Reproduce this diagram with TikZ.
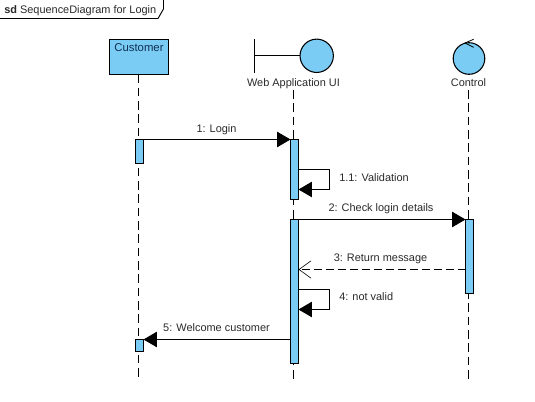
\documentclass[tikz,border=0pt]{standalone}
\usepackage{fontspec}
\setmainfont{Liberation Sans}
\usetikzlibrary{arrows.meta}
\definecolor{umlblue}{HTML}{7ACCF5}
\definecolor{labelgray}{HTML}{2A2A2A}
\definecolor{nameblue}{HTML}{0F2F52}
\tikzset{
  x=0.75pt,y=-0.75pt,
  umlline/.style={draw=black,line width=0.7pt},
  lifeline/.style={umlline,dash pattern=on 6.5pt off 3.5pt},
  activation/.style={draw=black,fill=umlblue,line width=0.7pt,minimum width=6pt,inner sep=0pt,outer sep=0pt,anchor=north},
  msglabel/.style={font=\fontsize{8.2}{9.5}\selectfont,text=labelgray,inner sep=0pt},
  synctip/.style={-{Triangle[length=10pt,width=11.5pt]}},
  opentip/.style={-{Straight Barb[length=9pt,width=13pt,line width=0.45pt]}},
  classifier/.style={draw=black,fill=umlblue,line width=0.8pt,circle,inner sep=0pt,outer sep=0pt},
}
\begin{document}
\begin{tikzpicture}
\useasboundingbox (0,0) rectangle (535,402);
\fill[white] (0,0) rectangle (535,402);

% frame tab
\coordinate (f0) at (-2,18.5);
\coordinate (f1) at (158,18.5);
\coordinate (f2) at (163.5,9);
\coordinate (f3) at (163.5,-2);
\draw[umlline] (f0) -- (f1) -- (f2) -- (f3);
\node[msglabel,anchor=base west] (frameTitle) at (4,13.5) {\textbf{sd} SequenceDiagram for Login};

% lifeline heads
\node[draw=black,fill=umlblue,line width=0.7pt,minimum width=44.25pt,minimum height=26.25pt,inner sep=0pt,outer sep=0pt,anchor=north west] (customer) at (109.5,39.5) {};
\node[msglabel,font=\fontsize{8.5}{10}\selectfont,text=nameblue,anchor=base] (customerText) at (139,52) {Customer};

\node[classifier,minimum size=25pt] (uiCircle) at (316.7,55.8) {};
\coordinate (barTop) at (254.5,39.5);
\coordinate (barBot) at (254.5,73);
\coordinate (barMid) at (254.5,55.5);
\draw[umlline] (barTop) -- (barBot);
\draw[umlline] (barMid) -- (uiCircle.west |- barMid);
\node[msglabel,anchor=base] (uiText) at (293.5,86.5) {Web Application UI};

\node[classifier,minimum size=23.7pt] (ctl) at (469,58.5) {};
\coordinate (ctlTip) at (465,43);
\coordinate (ctlA) at (473.6,39.3);
\coordinate (ctlB) at (473.6,47.3);
\draw[umlline,line width=0.6pt] (ctlA) -- (ctlTip) -- (ctlB);
\node[msglabel,anchor=base] (ctlText) at (468.5,86.5) {Control};

% lifeline ends
\coordinate (custEnd) at (138.5,380);
\coordinate (uiStart) at (293.5,90);
\coordinate (uiEnd) at (293.5,380);
\coordinate (ctlStart) at (468.5,90);
\coordinate (ctlEnd) at (468.5,380);
\draw[lifeline] (customer.south -| custEnd) -- (custEnd);
\draw[lifeline] (uiStart) -- (uiEnd);
\draw[lifeline] (ctlStart) -- (ctlEnd);

% activations
\node[activation,minimum height=18pt] (a1) at (139.5,139.5) {};
\node[activation,minimum height=45pt] (b1) at (294.5,139.5) {};
\node[activation,minimum height=108pt] (b2) at (294.5,219.5) {};
\node[activation,minimum height=55.5pt] (c1) at (469.5,219.5) {};
\node[activation,minimum height=9pt] (a2) at (139.5,339.5) {};

% messages
\coordinate (b1m) at (329.5,169.5);
\coordinate (b1n) at (329.5,189.5);
\coordinate (b2m) at (329.5,289.5);
\coordinate (b2n) at (329.5,309.5);

\draw[umlline,synctip] (a1.north east) -- (b1.north west);
\node[msglabel,anchor=base] (m1) at (216.5,132.5) {1: Login};

\draw[umlline,synctip] (b1.east |- b1m) -- (b1m) -- (b1n) -- (b1.east |- b1n);
\node[msglabel,anchor=base west] (m11) at (339,181.5) {1.1: Validation};

\draw[umlline,synctip] (b2.north east) -- (c1.north west);
\node[msglabel,anchor=base] (m2) at (381,211.5) {2: Check login details};

\coordinate (m3y) at (0,269.5);
\draw[umlline,dash pattern=on 6pt off 3pt,opentip] (c1.west |- m3y) -- (b2.east |- m3y);
\node[msglabel,anchor=base] (m3) at (380.5,261.5) {3: Return message};

\draw[umlline,synctip] (b2.east |- b2m) -- (b2m) -- (b2n) -- (b2.east |- b2n);
\node[msglabel,anchor=base west] (m4) at (339,300.5) {4: not valid};

\draw[umlline,synctip] (b2.west |- a2.north) -- (a2.north east);
\node[msglabel,anchor=base] (m5) at (216.5,331.5) {5: Welcome customer};
\end{tikzpicture}
\end{document}
